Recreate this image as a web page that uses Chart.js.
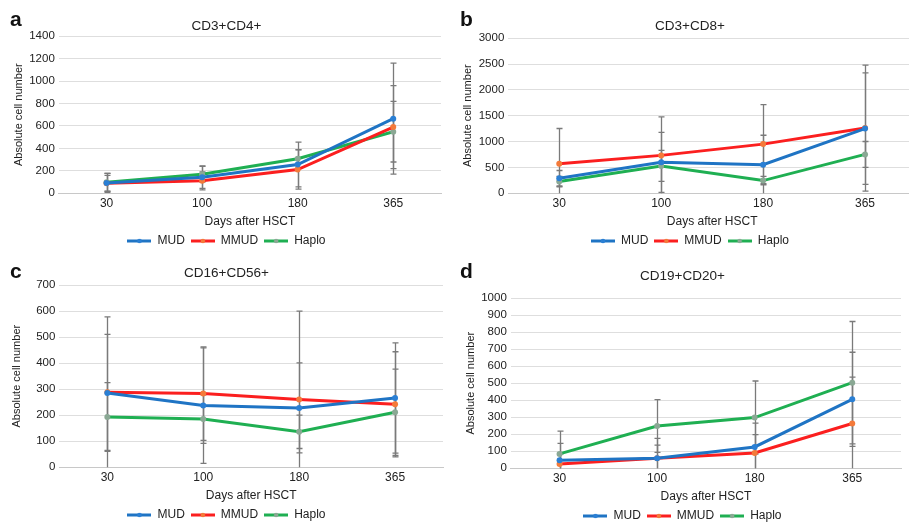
<!DOCTYPE html>
<html>
<head>
<meta charset="utf-8">
<script src="https://cdn.jsdelivr.net/npm/chart.js@4.4.0/dist/chart.umd.min.js"></script>
<style>
  body { margin: 0; background: #fff; width: 909px; height: 523px; position: relative; overflow: hidden; font-family: "Liberation Sans", Arial, sans-serif; }
  .panel { position: absolute; }
  .letter { position: absolute; font-weight: bold; font-size: 21px; color: #111; }
</style>
</head>
<body>
<div class="panel" style="left:0px; top:0px;"><canvas id="chartA" width="450" height="257"></canvas></div>
<div class="panel" style="left:450px; top:0px;"><canvas id="chartB" width="470" height="257"></canvas></div>
<div class="panel" style="left:0px; top:247px;"><canvas id="chartC" width="450" height="284"></canvas></div>
<div class="panel" style="left:450px; top:250px;"><canvas id="chartD" width="459" height="282"></canvas></div>
<div class="letter" style="left:10px; top:7px;">a</div>
<div class="letter" style="left:460px; top:7px;">b</div>
<div class="letter" style="left:10px; top:259px;">c</div>
<div class="letter" style="left:460px; top:259px;">d</div>
<script>
// categories
var days = ["30", "100", "180", "365"];
var groups = ["MUD", "MMUD", "Haplo"];

// y tick labels
var ticksA = [0, 200, 400, 600, 800, 1000, 1200, 1400];
var ticksB = [0, 500, 1000, 1500, 2000, 2500, 3000];
var ticksC = [0, 100, 200, 300, 400, 500, 600, 700];
var ticksD = [0, 100, 200, 300, 400, 500, 600, 700, 800, 900, 1000];

// CD3+CD4+
var cd4MUD = [92, 143, 256, 665];
var cd4MMUD = [89, 110, 211, 590];
var cd4Haplo = [97, 170, 308, 548];
var cd4MUDsd = [85, 100, 200, 495];
var cd4MMUDsd = [70, 80, 175, 370];
var cd4HaploSd = [80, 70, 80, 270];

// CD3+CD8+
var cd8MUD = [289, 597, 552, 1250];
var cd8MMUD = [572, 732, 950, 1260];
var cd8Haplo = [225, 527, 244, 751];
var cd8MUDsd = [150, 580, 570, 1080];
var cd8MMUDsd = [680, 745, 765, 1220];
var cd8HaploSd = [100, 300, 80, 250];

// CD16+CD56+
var nkMUD = [285, 237, 228, 266];
var nkMMUD = [288, 283, 260, 242];
var nkHaplo = [193, 185, 136, 211];
var nkMUDsd = [293, 222, 173, 212];
var nkMMUDsd = [223, 180, 340, 202];
var nkHaploSd = [132, 93, 64, 166];

// CD19+CD20+
var bMUD = [47, 58, 125, 405];
var bMMUD = [25, 58, 90, 263];
var bHaplo = [84, 248, 298, 503];
var bMUDsd = [99, 117, 140, 277];
var bMMUDsd = [60, 78, 108, 273];
var bHaploSd = [134, 155, 215, 360];

var lineColors = ["#1f74c4", "#fb1f1f", "#1faf52"];
var markerColors = ["#2a7fd4", "#f47a3a", "#8aa894"];
var FONT = "Liberation Sans";

function legendIcon(i) {
  var c = document.createElement("canvas");
  c.width = 24; c.height = 8;
  var g = c.getContext("2d");
  g.strokeStyle = lineColors[i];
  g.lineWidth = 3;
  g.beginPath(); g.moveTo(0, 4); g.lineTo(24, 4); g.stroke();
  g.fillStyle = markerColors[i];
  g.beginPath(); g.arc(12, 4, 2.3, 0, Math.PI * 2); g.fill();
  return c;
}

// draws +/- SD whiskers in grey, using the chart scales
var errorBars = {
  id: "errorBars",
  beforeDatasetsDraw: function (chart) {
    var ctx = chart.ctx;
    var x = chart.scales.x, y = chart.scales.y;
    ctx.save();
    ctx.strokeStyle = "#7a7a7a";
    ctx.lineWidth = 1.3;
    chart.data.datasets.forEach(function (ds) {
      ds.data.forEach(function (v, j) {
        var px = Math.round(x.getPixelForValue(j)) + 0.5;
        var top = y.getPixelForValue(v + ds.sd[j]);
        var bot = y.getPixelForValue(Math.max(v - ds.sd[j], y.min));
        ctx.beginPath();
        ctx.moveTo(px, top); ctx.lineTo(px, bot);
        ctx.moveTo(px - 3, top); ctx.lineTo(px + 3, top);
        if (v - ds.sd[j] >= y.min) { ctx.moveTo(px - 3, bot); ctx.lineTo(px + 3, bot); }
        ctx.stroke();
      });
    });
    ctx.restore();
  }
};

function makeChart(id, title, series, sds, yTicks, pad, titlePad, yTitlePad) {
  var datasets = series.map(function (s, i) {
    return {
      label: groups[i],
      data: s,
      sd: sds[i],
      borderColor: lineColors[i],
      backgroundColor: markerColors[i],
      pointBackgroundColor: markerColors[i],
      pointBorderWidth: 0,
      pointRadius: 3,
      borderWidth: 3,
      tension: 0,
    };
  });
  return new Chart(document.getElementById(id), {
    type: "line",
    data: { labels: days, datasets: datasets },
    plugins: [errorBars],
    options: {
      responsive: false,
      animation: false,
      devicePixelRatio: 1,
      layout: { padding: pad },
      plugins: {
        title: {
          display: true,
          text: title,
          color: "#222",
          font: { family: FONT, size: 13.5, weight: "normal" },
          padding: titlePad,
        },
        legend: {
          position: "bottom",
          labels: {
            color: "#222",
            font: { family: FONT, size: 12 },
            usePointStyle: true,
            pointStyleWidth: 24,
            padding: 6,
            generateLabels: function (chart) {
              return chart.data.datasets.map(function (ds, i) {
                return { text: ds.label, pointStyle: legendIcon(i), datasetIndex: i, fontColor: "#222", lineWidth: 0, strokeStyle: "transparent", fillStyle: "transparent" };
              });
            },
          },
        },
        tooltip: { enabled: false },
      },
      scales: {
        x: {
          offset: true,
          grid: { display: false, drawTicks: false },
          border: { color: "#c8c8c8" },
          ticks: { color: "#222", font: { family: FONT, size: 12 }, padding: 3 },
          title: { display: true, text: "Days after HSCT", color: "#222", font: { family: FONT, size: 12 }, padding: { top: 1, bottom: 0 } },
        },
        y: {
          min: yTicks[0],
          max: yTicks[yTicks.length - 1],
          afterBuildTicks: function (scale) {
            scale.ticks = yTicks.map(function (v) { return { value: v }; });
          },
          ticks: { color: "#222", font: { family: FONT, size: 11.5 }, padding: 4, autoSkip: false, callback: function (v) { return String(v); } },
          grid: { color: "#dedede", drawTicks: false },
          border: { display: false },
          title: { display: true, text: "Absolute cell number", color: "#222", font: { family: FONT, size: 11 }, padding: { top: 0, bottom: yTitlePad } },
        },
      },
    },
  });
}

makeChart("chartA", "CD3+CD4+", [cd4MUD, cd4MMUD, cd4Haplo], [cd4MUDsd, cd4MMUDsd, cd4HaploSd], ticksA,
  { left: 12, right: 9, top: 0, bottom: 0 }, { top: 18, bottom: 2 }, 0);
makeChart("chartB", "CD3+CD8+", [cd8MUD, cd8MMUD, cd8Haplo], [cd8MUDsd, cd8MMUDsd, cd8HaploSd], ticksB,
  { left: 11.5, right: 1.5, top: 0, bottom: 0 }, { top: 18, bottom: 4 }, 0);
makeChart("chartC", "CD16+CD56+", [nkMUD, nkMMUD, nkHaplo], [nkMUDsd, nkMMUDsd, nkHaploSd], ticksC,
  { left: 10, right: 7, top: 0, bottom: 0 }, { top: 18, bottom: 4 }, 9);
makeChart("chartD", "CD19+CD20+", [bMUD, bMMUD, bHaplo], [bMUDsd, bMMUDsd, bHaploSd], ticksD,
  { left: 14, right: 8, top: 0, bottom: 0 }, { top: 18, bottom: 14 }, 0);
</script>
</body>
</html>
